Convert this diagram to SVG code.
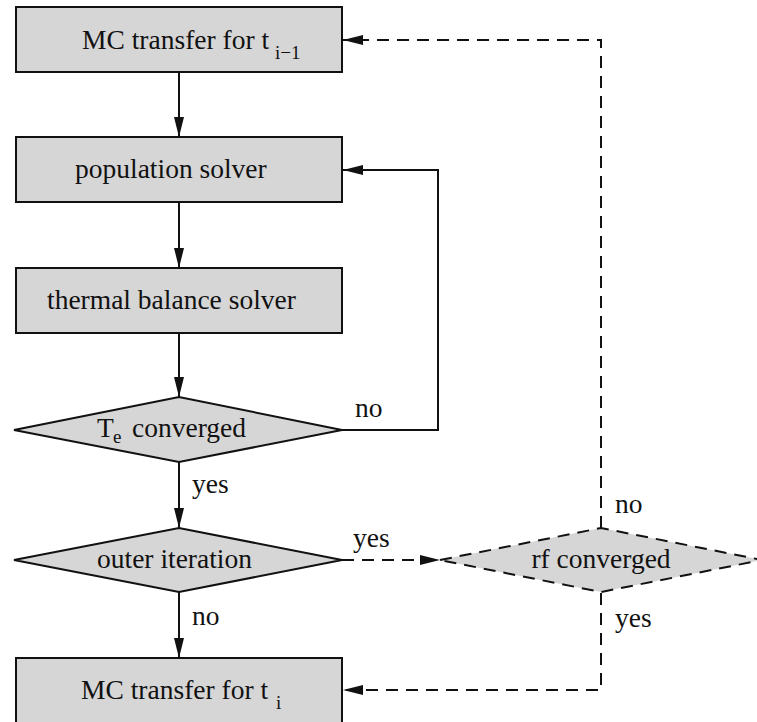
<svg xmlns="http://www.w3.org/2000/svg" width="757" height="722" viewBox="0 0 757 722">
<style>
.box{fill:#d6d6d6;stroke:#111;stroke-width:2}
.dia{fill:#d6d6d6;stroke:#111;stroke-width:2}
.dash{stroke-dasharray:12 8}
.t{font-family:"Liberation Serif","Times New Roman",serif;font-size:27.5px;fill:#111}
.s{font-family:"Liberation Serif","Times New Roman",serif;font-size:19px;fill:#111}
.c{fill:none;stroke:#111;stroke-width:2}
</style>
<defs>
<marker id="ah" viewBox="0 0 20 10" refX="20" refY="5" markerWidth="20" markerHeight="10" markerUnits="userSpaceOnUse" orient="auto">
<path d="M0,0 L20,5 L0,10 z" fill="#111"/>
</marker>
</defs>
<rect width="757" height="722" fill="#fff"/>
<g id="connectors">
<line class="c" x1="179" y1="72" x2="179" y2="137" marker-end="url(#ah)"/>
<line class="c" x1="179" y1="202" x2="179" y2="268" marker-end="url(#ah)"/>
<line class="c" x1="179" y1="333" x2="179" y2="397" marker-end="url(#ah)"/>
<line class="c" x1="179" y1="462" x2="179" y2="528" marker-end="url(#ah)"/>
<line class="c" x1="179" y1="592" x2="179" y2="658" marker-end="url(#ah)"/>
<polyline class="c" points="342,430 438,430 438,170 343,170" marker-end="url(#ah)"/>
<line class="c dash" x1="342" y1="560" x2="440" y2="560" marker-end="url(#ah)"/>
<polyline class="c dash" points="601,528 601,40 343,40" marker-end="url(#ah)"/>
<polyline class="c dash" points="601,593 601,690 343,690" marker-end="url(#ah)"/>
<text class="t" x="192" y="493">yes</text>
<text class="t" x="192" y="625">no</text>
<text class="t" x="355" y="417">no</text>
<text class="t" x="353" y="547">yes</text>
<text class="t" x="615" y="513">no</text>
<text class="t" x="615" y="627">yes</text>
</g>
<g id="box1">
<rect class="box" x="16" y="7" width="326" height="65"/>
<text class="t" x="82" y="49">MC transfer for t</text>
<text class="s" x="275" y="59">i−1</text>
</g>
<g id="box2">
<rect class="box" x="16" y="137" width="326" height="65"/>
<text class="t" x="75" y="178">population solver</text>
</g>
<g id="box3">
<rect class="box" x="16" y="268" width="326" height="65"/>
<text class="t" x="47" y="309">thermal balance solver</text>
</g>
<g id="te">
<polygon class="dia" points="14,430 179,397 342,430 179,462"/>
<text class="t" x="97" y="437">T</text>
<text class="s" x="113" y="443">e</text>
<text class="t" x="132" y="437">converged</text>
</g>
<g id="outer">
<polygon class="dia" points="14,560 179,528 342,560 179,592"/>
<text class="t" x="97" y="568">outer iteration</text>
</g>
<g id="rf">
<polygon class="dia dash" points="440,560 601,528 762,560 601,592"/>
<text class="t" x="601" y="568" text-anchor="middle">rf converged</text>
</g>
<g id="box5">
<rect class="box" x="16" y="658" width="326" height="66"/>
<text class="t" x="81" y="699">MC transfer for t</text>
<text class="s" x="276" y="709">i</text>
</g>
</svg>
